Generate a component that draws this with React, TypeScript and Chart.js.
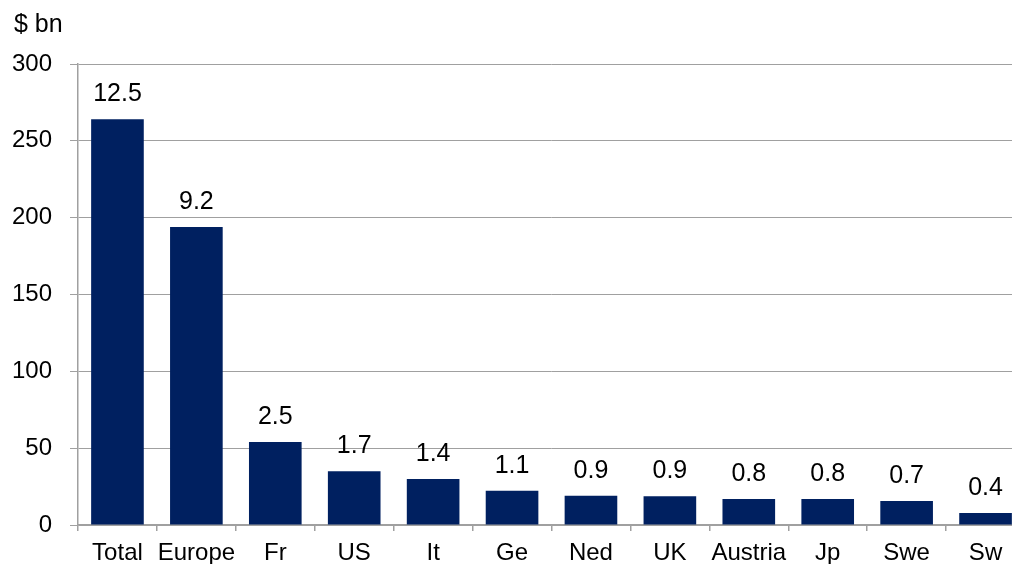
import React, { useEffect, useRef } from "react";
import { Chart, registerables } from "chart.js";

Chart.register(...registerables);

const categories = ["Total", "Europe", "Fr", "US", "It", "Ge", "Ned", "UK", "Austria", "Jp", "Swe", "Sw"];
const values = [264, 194, 54, 35, 30, 22.3, 19, 18.7, 17, 17, 15.6, 7.8];
const barLabels = ["12.5", "9.2", "2.5", "1.7", "1.4", "1.1", "0.9", "0.9", "0.8", "0.8", "0.7", "0.4"];
const yTicks = [0, 50, 100, 150, 200, 250, 300];
const unitLabel = "$ bn";

const FONT = "'Liberation Sans', Arial, sans-serif";
const GRID = "#a0a0a0";
const BAR = "#002060";

const labelPlugin = {
  id: "barLabels",
  afterDatasetsDraw(chart: any) {
    const ctx = chart.ctx;
    const meta = chart.getDatasetMeta(0);
    ctx.save();
    ctx.font = `25px ${FONT}`;
    ctx.fillStyle = "#000";
    ctx.textAlign = "center";
    ctx.textBaseline = "middle";
    meta.data.forEach((el: any, i: number) => {
      ctx.fillText(barLabels[i], el.x, el.y - 25);
    });
    ctx.textAlign = "left";
    ctx.fillText(unitLabel, 14, 25);
    ctx.restore();
  },
};

export default function App() {
  const ref = useRef<HTMLCanvasElement | null>(null);
  useEffect(() => {
    document.body.style.overflow = "hidden";
    if (!ref.current) return;
    const chart = new Chart(ref.current, {
      type: "bar",
      data: {
        labels: categories,
        datasets: [
          {
            data: values,
            backgroundColor: BAR,
            borderWidth: 0,
            barPercentage: 0.667,
            categoryPercentage: 1,
          },
        ],
      },
      options: {
        animation: false,
        responsive: false,
        maintainAspectRatio: false,
        layout: { padding: { top: 64, right: 0, bottom: 0, left: 0 } },
        plugins: { legend: { display: false }, tooltip: { enabled: false }, title: { display: false } },
        scales: {
          x: {
            offset: true,
            grid: {
              offset: true,
              drawOnChartArea: false,
              drawTicks: true,
              tickLength: 6,
              color: GRID,
              lineWidth: 1.5,
            },
            border: { color: GRID, width: 1.5 },
            ticks: {
              color: "#000",
              font: { family: FONT, size: 24 },
              padding: 8,
              maxRotation: 0,
              autoSkip: false,
            },
            afterFit: (s: any) => {
              s.height = 55;
            },
          },
          y: {
            min: 0,
            max: 300,
            afterBuildTicks: (s: any) => {
              s.ticks = yTicks.map((v) => ({ value: v }));
            },
            grid: { color: GRID, lineWidth: 1, tickLength: 8, drawTicks: true },
            border: { color: GRID, width: 1.5 },
            ticks: {
              color: "#000",
              font: { family: FONT, size: 24 },
              padding: 18,
            },
            afterFit: (s: any) => {
              s.width = 78;
            },
          },
        },
      },
      plugins: [labelPlugin],
    });
    return () => chart.destroy();
  }, []);
  return (
    <div style={{ position: "fixed", left: 0, top: 0, width: 1025, height: 580 }}>
      <canvas ref={ref} width={1025} height={580} style={{ width: 1025, height: 580 }} />
    </div>
  );
}
